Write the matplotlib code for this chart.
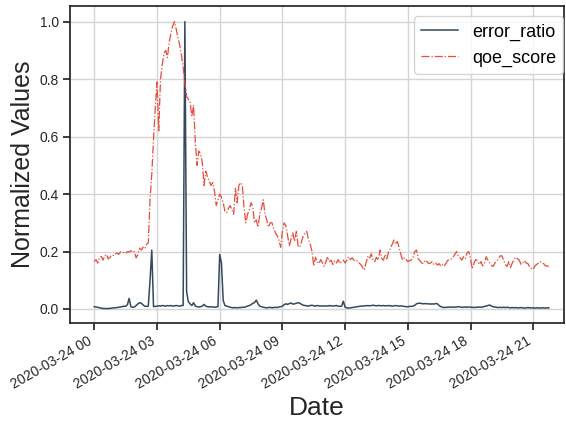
import matplotlib
matplotlib.use("Agg")
import matplotlib.pyplot as plt
import matplotlib.dates as mdates
import pandas as pd
import numpy as np

plt.rcParams['font.family'] = ['Liberation Sans', 'DejaVu Sans']

start = "2020-03-24 00:00"
freq = "5min"

# qoe_score, 5-minute samples, one row per hour
qoe_score = [
    0.165, 0.172, 0.160, 0.178, 0.183, 0.170, 0.185, 0.190, 0.174, 0.180, 0.188, 0.186,
    0.192, 0.195, 0.190, 0.198, 0.200, 0.196, 0.193, 0.200, 0.198, 0.203, 0.197, 0.200,
    0.178, 0.190, 0.212, 0.205, 0.215, 0.210, 0.225, 0.230, 0.380, 0.470, 0.590, 0.700,
    0.790, 0.620, 0.800, 0.850, 0.890, 0.900, 0.875, 0.930, 0.960, 0.985, 1.000, 0.975,
    0.945, 0.920, 0.885, 0.840, 0.790, 0.740, 0.730, 0.720, 0.670, 0.710, 0.580, 0.500,
    0.550, 0.540, 0.510, 0.430, 0.480, 0.460, 0.445, 0.430, 0.440, 0.410, 0.360, 0.380,
    0.400, 0.390, 0.370, 0.340, 0.335, 0.350, 0.360, 0.345, 0.330, 0.420, 0.370, 0.430,
    0.440, 0.430, 0.350, 0.300, 0.330, 0.345, 0.370, 0.355, 0.300, 0.310, 0.285, 0.330,
    0.350, 0.380, 0.330, 0.310, 0.285, 0.300, 0.300, 0.280, 0.265, 0.255, 0.240, 0.215,
    0.270, 0.300, 0.290, 0.255, 0.220, 0.245, 0.265, 0.235, 0.270, 0.220, 0.215, 0.235,
    0.255, 0.265, 0.270, 0.240, 0.225, 0.200, 0.150, 0.180, 0.165, 0.158, 0.172, 0.160,
    0.148, 0.165, 0.182, 0.165, 0.170, 0.155, 0.168, 0.160, 0.172, 0.158, 0.165, 0.170,
    0.160, 0.170, 0.182, 0.172, 0.178, 0.170, 0.165, 0.168, 0.160, 0.155, 0.145, 0.135,
    0.160, 0.182, 0.175, 0.192, 0.170, 0.165, 0.180, 0.170, 0.205, 0.175, 0.170, 0.190,
    0.175, 0.200, 0.210, 0.225, 0.240, 0.225, 0.235, 0.215, 0.190, 0.170, 0.178, 0.172,
    0.165, 0.168, 0.170, 0.180, 0.200, 0.205, 0.175, 0.168, 0.160, 0.158, 0.170, 0.165,
    0.158, 0.160, 0.165, 0.155, 0.160, 0.153, 0.158, 0.148, 0.155, 0.150, 0.160, 0.170,
    0.170, 0.175, 0.180, 0.190, 0.200, 0.185, 0.178, 0.170, 0.182, 0.175, 0.195, 0.200,
    0.175, 0.140, 0.160, 0.172, 0.168, 0.155, 0.165, 0.150, 0.158, 0.182, 0.170, 0.160,
    0.152, 0.148, 0.160, 0.165, 0.175, 0.185, 0.185, 0.170, 0.155, 0.148, 0.165, 0.145,
    0.160, 0.172, 0.180, 0.175, 0.170, 0.155, 0.160, 0.168, 0.160, 0.158, 0.145, 0.140,
    0.138, 0.150, 0.155, 0.160, 0.165, 0.160, 0.158, 0.150, 0.150, 0.148,
]

# error_ratio, 5-minute samples, one row per hour
error_ratio = [
    0.008, 0.007, 0.006, 0.004, 0.003, 0.002, 0.002, 0.001, 0.002, 0.002, 0.003, 0.004,
    0.004, 0.005, 0.006, 0.007, 0.008, 0.010, 0.009, 0.015, 0.037, 0.008, 0.006, 0.007,
    0.012, 0.018, 0.022, 0.020, 0.014, 0.010, 0.009, 0.010, 0.100, 0.205, 0.008, 0.009,
    0.010, 0.011, 0.010, 0.012, 0.011, 0.010, 0.012, 0.011, 0.012, 0.010, 0.011, 0.012,
    0.011, 0.010, 0.012, 0.012, 1.000, 0.060, 0.025, 0.018, 0.012, 0.022, 0.010, 0.008,
    0.007, 0.008, 0.010, 0.016, 0.010, 0.008, 0.007, 0.008, 0.007, 0.006, 0.007, 0.008,
    0.190, 0.160, 0.030, 0.012, 0.010, 0.008, 0.006, 0.005, 0.004, 0.005, 0.004, 0.005,
    0.005, 0.006, 0.006, 0.008, 0.010, 0.012, 0.015, 0.020, 0.022, 0.031, 0.018, 0.010,
    0.008, 0.006, 0.005, 0.004, 0.005, 0.006, 0.004, 0.005, 0.006, 0.005, 0.007, 0.008,
    0.010, 0.015, 0.018, 0.016, 0.019, 0.021, 0.017, 0.018, 0.020, 0.022, 0.020, 0.016,
    0.013, 0.012, 0.011, 0.010, 0.012, 0.013, 0.011, 0.010, 0.012, 0.011, 0.010, 0.011,
    0.010, 0.011, 0.010, 0.012, 0.011, 0.010, 0.011, 0.012, 0.010, 0.009, 0.010, 0.027,
    0.006, 0.004, 0.003, 0.004, 0.005, 0.006, 0.007, 0.008, 0.009, 0.010, 0.010, 0.011,
    0.011, 0.012, 0.011, 0.012, 0.013, 0.012, 0.011, 0.012, 0.012, 0.011, 0.012, 0.011,
    0.011, 0.012, 0.011, 0.010, 0.011, 0.012, 0.011, 0.010, 0.011, 0.010, 0.009, 0.008,
    0.008, 0.009, 0.009, 0.010, 0.013, 0.018, 0.020, 0.020, 0.019, 0.018, 0.019, 0.018,
    0.018, 0.017, 0.018, 0.017, 0.019, 0.018, 0.012, 0.008, 0.006, 0.005, 0.006, 0.006,
    0.007, 0.006, 0.007, 0.006, 0.007, 0.008, 0.007, 0.006, 0.006, 0.007, 0.006, 0.007,
    0.006, 0.006, 0.005, 0.006, 0.006, 0.007, 0.006, 0.007, 0.009, 0.010, 0.012, 0.014,
    0.010, 0.008, 0.007, 0.006, 0.005, 0.006, 0.005, 0.006, 0.005, 0.006, 0.005, 0.004,
    0.005, 0.004, 0.005, 0.004, 0.004, 0.005, 0.004, 0.003, 0.004, 0.005, 0.004, 0.004,
    0.004, 0.003, 0.004, 0.004, 0.003, 0.004, 0.004, 0.003, 0.004, 0.004,
]

series_names = ["error_ratio", "qoe_score"]
y_ticks = [0.0, 0.2, 0.4, 0.6, 0.8, 1.0]

dates = pd.date_range(start, periods=len(qoe_score), freq=freq)

fig = plt.figure(figsize=(5.66, 4.22), dpi=100)
ax = fig.add_axes([70/566, (422-322.7)/422, (564.3-70)/566, (322.7-6)/422])

ax.grid(True, color="#d5d5d5", linewidth=1.0)
ax.set_axisbelow(True)

ax.plot(dates, error_ratio, color="#34495e", linewidth=1.1, label=series_names[0])
ax.plot(dates, qoe_score, color="#e74c3c", linewidth=0.9, linestyle="-.", label=series_names[1])

t0 = pd.Timestamp(start)
ax.set_xlim(t0 - pd.Timedelta(hours=1.163), t0 + pd.Timedelta(hours=22.488))
ax.set_ylim(-0.0477, 1.0546)
ax.set_yticks(y_ticks)
ax.yaxis.set_major_formatter(matplotlib.ticker.FormatStrFormatter('%.1f'))

ax.xaxis.set_major_locator(mdates.HourLocator(byhour=range(0, 24, 3)))
ax.xaxis.set_major_formatter(mdates.DateFormatter('%Y-%m-%d %H'))
for lab in ax.get_xticklabels():
    lab.set_rotation(30)
    lab.set_ha('right')

for sp in ax.spines.values():
    sp.set_color("#262626")
    sp.set_linewidth(1.25)
ax.tick_params(axis='both', direction='out', length=5, width=1.25, color="#262626",
               labelsize=10, labelcolor="#262626", pad=3)

ax.set_xlabel("Date", fontsize=19, color="#262626", labelpad=3)
ax.set_ylabel("Normalized Values", fontsize=18, color="#262626", labelpad=3)

leg = ax.legend(loc="upper right", bbox_to_anchor=(0.998, 0.968), borderaxespad=0,
                fontsize=13, frameon=True, fancybox=True, framealpha=0.8,
                edgecolor="#cccccc")

fig.savefig("out.png", dpi=100)
